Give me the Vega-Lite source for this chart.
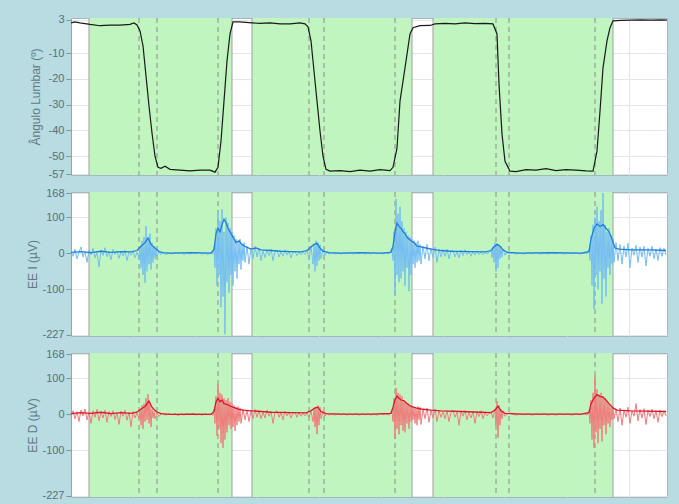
{
"$schema": "https://vega.github.io/schema/vega-lite/v6.json",
"background": "#b9dce2",
"padding": {"left": 25, "top": 13, "right": 12, "bottom": 6},
"config": {
  "view": {"stroke": "#a3b8bd", "fill": "white"},
  "axisY": {"labelColor": "#56707b", "labelFontSize": 11, "labelFont": "Liberation Sans", "labelOverlap": false, "labelExpr": "'' + datum.value", "tickColor": "#7d959c", "tickSize": 5, "labelPadding": 2, "domainColor": "#a0a0a0", "gridColor": "#e6e6e6", "titleColor": "#5f7a85", "titleFontSize": 12, "titleFont": "Liberation Sans", "titleFontWeight": "normal", "titleBaseline": "middle", "titleAngle": -90}
},
"bounds": "flush",
"spacing": 17,
"datasets": {
  "regions": [{"a": 18, "b": 161}, {"a": 181, "b": 341}, {"a": 362, "b": 542}],
  "edges": [{"s": 18}, {"s": 161}, {"s": 181}, {"s": 341}, {"s": 362}, {"s": 542}],
  "marks": [{"s": 68}, {"s": 86}, {"s": 147}, {"s": 238}, {"s": 253}, {"s": 324}, {"s": 425}, {"s": 438}, {"s": 524}],
  "ang": [
    {"s":0,"v":1.8},{"s":4,"v":2.2},{"s":9,"v":1.8},{"s":19,"v":1.2},{"s":29,"v":0.7},{"s":39,"v":0.9},{"s":49,"v":0.9},{"s":59,"v":1.2},{"s":63,"v":1.8},{"s":66,"v":1.0},{"s":69,"v":-1.3},{"s":72,"v":-7.1},{"s":75,"v":-18.8},{"s":78,"v":-30.5},{"s":81,"v":-41.0},{"s":84,"v":-50.0},{"s":87,"v":-54.3},{"s":90,"v":-54.7},{"s":94,"v":-53.9},{"s":99,"v":-55.1},{"s":109,"v":-55.4},{"s":119,"v":-55.7},{"s":129,"v":-55.4},{"s":139,"v":-55.4},{"s":144,"v":-56.2},{"s":147,"v":-54.3},{"s":150,"v":-44.1},{"s":153,"v":-28.6},{"s":156,"v":-13.0},{"s":159,"v":-2.5},{"s":162,"v":2.2},{"s":169,"v":2.2},{"s":181,"v":1.8},{"s":189,"v":1.6},{"s":199,"v":1.8},{"s":209,"v":1.4},{"s":219,"v":1.4},{"s":229,"v":1.8},{"s":234,"v":1.4},{"s":237,"v":0.3},{"s":240,"v":-5.2},{"s":243,"v":-16.9},{"s":246,"v":-28.6},{"s":249,"v":-40.2},{"s":252,"v":-50.0},{"s":255,"v":-55.1},{"s":259,"v":-55.8},{"s":269,"v":-55.6},{"s":279,"v":-56.0},{"s":289,"v":-55.4},{"s":299,"v":-55.8},{"s":309,"v":-55.2},{"s":319,"v":-55.6},{"s":322,"v":-54.3},{"s":326,"v":-46.9},{"s":329,"v":-28.6},{"s":334,"v":-15.7},{"s":339,"v":-2.5},{"s":342,"v":-0.1},{"s":349,"v":0.7},{"s":359,"v":0.8},{"s":364,"v":1.4},{"s":374,"v":1.6},{"s":384,"v":1.4},{"s":394,"v":1.8},{"s":404,"v":1.5},{"s":414,"v":1.6},{"s":422,"v":1.4},{"s":426,"v":-2.5},{"s":428,"v":-22.0},{"s":431,"v":-41.4},{"s":434,"v":-52.0},{"s":439,"v":-55.8},{"s":445,"v":-56.0},{"s":455,"v":-55.2},{"s":465,"v":-55.4},{"s":475,"v":-54.8},{"s":485,"v":-55.6},{"s":495,"v":-55.2},{"s":505,"v":-55.4},{"s":515,"v":-55.7},{"s":522,"v":-55.8},{"s":526,"v":-48.0},{"s":529,"v":-32.5},{"s":532,"v":-15.7},{"s":536,"v":-5.2},{"s":539,"v":-0.1},{"s":542,"v":2.6},{"s":550,"v":2.8},{"s":560,"v":2.9},{"s":570,"v":3.0},{"s":580,"v":2.9},{"s":590,"v":3.0},{"s":596,"v":2.9}
  ],
  "eiRaw": [
    {"s":0,"v":5},{"s":2,"v":-8},{"s":4,"v":12},{"s":6,"v":-15},{"s":8,"v":3},{"s":10,"v":18},{"s":12,"v":-10},{"s":14,"v":6},{"s":16,"v":-25},{"s":18,"v":9},{"s":20,"v":-4},{"s":22,"v":14},{"s":24,"v":-12},{"s":26,"v":2},{"s":28,"v":-38},{"s":30,"v":10},{"s":32,"v":-6},{"s":34,"v":16},{"s":36,"v":-9},{"s":38,"v":4},{"s":40,"v":-18},{"s":42,"v":11},{"s":44,"v":-3},{"s":46,"v":7},{"s":48,"v":-14},{"s":50,"v":5},{"s":52,"v":-7},{"s":54,"v":9},{"s":56,"v":-20},{"s":58,"v":3},{"s":60,"v":-5},{"s":62,"v":6},{"s":64,"v":-12},{"s":66,"v":4},
    {"s":68,"v":-15},{"s":69,"v":20},{"s":70,"v":-40},{"s":71,"v":35},{"s":72,"v":-60},{"s":73,"v":45},{"s":74,"v":-82},{"s":75,"v":76},{"s":76,"v":-50},{"s":77,"v":40},{"s":78,"v":-30},{"s":79,"v":55},{"s":80,"v":-45},{"s":81,"v":30},{"s":82,"v":-25},{"s":83,"v":20},{"s":84,"v":-15},{"s":85,"v":10},{"s":86,"v":-8},{"s":88,"v":6},{"s":90,"v":-4},
    {"s":92,"v":2},{"s":95,"v":-3},{"s":98,"v":1},{"s":101,"v":-2},{"s":104,"v":3},{"s":107,"v":-1},{"s":110,"v":2},{"s":113,"v":-3},{"s":116,"v":1},{"s":119,"v":-2},{"s":122,"v":2},{"s":125,"v":-1},{"s":128,"v":3},{"s":131,"v":-2},{"s":134,"v":1},{"s":137,"v":-3},{"s":140,"v":2},{"s":142,"v":-2},
    {"s":143,"v":20},{"s":144,"v":-40},{"s":145,"v":70},{"s":146,"v":-90},{"s":147,"v":110},{"s":148,"v":-60},{"s":149,"v":90},{"s":150,"v":-150},{"s":151,"v":123},{"s":152,"v":-120},{"s":153,"v":60},{"s":154,"v":-225},{"s":155,"v":100},{"s":156,"v":-80},{"s":157,"v":85},{"s":158,"v":-110},{"s":159,"v":70},{"s":160,"v":-60},{"s":161,"v":60},{"s":162,"v":-90},
    {"s":163,"v":50},{"s":164,"v":-50},{"s":165,"v":40},{"s":166,"v":-70},{"s":167,"v":35},{"s":168,"v":-30},{"s":169,"v":40},{"s":170,"v":-45},{"s":171,"v":25},{"s":172,"v":-20},{"s":173,"v":30},{"s":174,"v":-25},{"s":176,"v":20},{"s":178,"v":-30},{"s":180,"v":15},{"s":182,"v":-15},{"s":184,"v":20},{"s":186,"v":-10},{"s":188,"v":15},{"s":190,"v":-20},
    {"s":192,"v":8},{"s":194,"v":-12},{"s":196,"v":10},{"s":198,"v":-6},{"s":200,"v":12},{"s":202,"v":-20},{"s":204,"v":5},{"s":206,"v":9},{"s":208,"v":-10},{"s":210,"v":4},{"s":212,"v":-8},{"s":214,"v":10},{"s":216,"v":-5},{"s":218,"v":6},{"s":220,"v":-12},{"s":222,"v":3},{"s":224,"v":5},{"s":226,"v":-6},{"s":228,"v":4},{"s":230,"v":-4},{"s":232,"v":3},{"s":234,"v":-3},
    {"s":236,"v":10},{"s":238,"v":-15},{"s":240,"v":20},{"s":242,"v":-30},{"s":243,"v":25},{"s":244,"v":-50},{"s":245,"v":35},{"s":246,"v":-35},{"s":247,"v":30},{"s":248,"v":-20},{"s":249,"v":25},{"s":250,"v":-15},{"s":252,"v":12},{"s":254,"v":-6},{"s":256,"v":4},{"s":258,"v":-2},
    {"s":261,"v":2},{"s":264,"v":-2},{"s":267,"v":1},{"s":270,"v":-2},{"s":273,"v":2},{"s":276,"v":-1},{"s":279,"v":2},{"s":282,"v":-2},{"s":285,"v":1},{"s":288,"v":-1},{"s":291,"v":2},{"s":294,"v":-2},{"s":297,"v":1},{"s":300,"v":-2},{"s":303,"v":2},{"s":306,"v":-1},{"s":309,"v":2},{"s":312,"v":-2},{"s":315,"v":1},{"s":318,"v":-1},
    {"s":321,"v":15},{"s":322,"v":-20},{"s":323,"v":60},{"s":324,"v":-113},{"s":325,"v":152},{"s":326,"v":-60},{"s":327,"v":110},{"s":328,"v":-80},{"s":329,"v":130},{"s":330,"v":-70},{"s":331,"v":90},{"s":332,"v":-50},{"s":333,"v":70},{"s":334,"v":-90},{"s":335,"v":60},{"s":336,"v":-40},{"s":337,"v":50},{"s":338,"v":-105},{"s":339,"v":45},{"s":340,"v":-60},{"s":341,"v":40},{"s":342,"v":-30},
    {"s":343,"v":35},{"s":344,"v":-40},{"s":345,"v":30},{"s":346,"v":-25},{"s":347,"v":35},{"s":348,"v":-20},{"s":349,"v":25},{"s":350,"v":-30},{"s":352,"v":20},{"s":354,"v":-15},{"s":356,"v":25},{"s":358,"v":-20},{"s":360,"v":15},{"s":362,"v":-12},{"s":364,"v":18},{"s":366,"v":-25},{"s":368,"v":12},{"s":370,"v":-10},
    {"s":372,"v":10},{"s":374,"v":-8},{"s":376,"v":12},{"s":378,"v":-15},{"s":380,"v":6},{"s":382,"v":9},{"s":384,"v":-10},{"s":386,"v":5},{"s":388,"v":-12},{"s":390,"v":8},{"s":392,"v":-6},{"s":394,"v":10},{"s":396,"v":-4},{"s":398,"v":5},{"s":400,"v":-8},{"s":402,"v":6},{"s":404,"v":-5},{"s":406,"v":7},{"s":408,"v":-3},{"s":410,"v":4},{"s":412,"v":-4},{"s":414,"v":3},{"s":416,"v":-2},{"s":418,"v":2},
    {"s":420,"v":8},{"s":421,"v":-12},{"s":422,"v":20},{"s":423,"v":-25},{"s":424,"v":30},{"s":425,"v":-50},{"s":426,"v":28},{"s":427,"v":-40},{"s":428,"v":25},{"s":429,"v":-15},{"s":430,"v":20},{"s":431,"v":-10},{"s":432,"v":12},{"s":434,"v":-5},{"s":436,"v":4},{"s":438,"v":-2},
    {"s":441,"v":2},{"s":445,"v":-2},{"s":449,"v":1},{"s":453,"v":-2},{"s":457,"v":2},{"s":461,"v":-1},{"s":465,"v":2},{"s":469,"v":-2},{"s":473,"v":1},{"s":477,"v":-2},{"s":481,"v":2},{"s":485,"v":-1},{"s":489,"v":2},{"s":493,"v":-2},{"s":497,"v":1},{"s":501,"v":-1},{"s":505,"v":2},{"s":509,"v":-2},{"s":513,"v":1},{"s":516,"v":-1},
    {"s":518,"v":12},{"s":519,"v":-20},{"s":520,"v":50},{"s":521,"v":-90},{"s":522,"v":80},{"s":523,"v":-155},{"s":524,"v":100},{"s":525,"v":-60},{"s":526,"v":130},{"s":527,"v":-100},{"s":528,"v":90},{"s":529,"v":-50},{"s":530,"v":120},{"s":531,"v":-140},{"s":532,"v":168},{"s":533,"v":-70},{"s":534,"v":80},{"s":535,"v":-120},{"s":536,"v":60},{"s":537,"v":-40},{"s":538,"v":70},{"s":539,"v":-60},{"s":540,"v":50},{"s":541,"v":-30},{"s":542,"v":40},{"s":543,"v":-25},
    {"s":545,"v":30},{"s":547,"v":-20},{"s":549,"v":25},{"s":551,"v":-30},{"s":553,"v":20},{"s":555,"v":-10},{"s":557,"v":28},{"s":559,"v":-40},{"s":561,"v":15},{"s":563,"v":-5},{"s":565,"v":22},{"s":567,"v":-25},{"s":569,"v":18},{"s":571,"v":-10},{"s":573,"v":20},{"s":575,"v":-35},{"s":577,"v":14},{"s":579,"v":-8},{"s":581,"v":20},{"s":583,"v":-15},{"s":585,"v":12},{"s":587,"v":-20},{"s":589,"v":16},{"s":591,"v":-8},{"s":593,"v":14},{"s":595,"v":-5}
  ],
  "eiEnv": [
    {"s":0,"v":3},{"s":10,"v":5},{"s":20,"v":2},{"s":30,"v":6},{"s":40,"v":3},{"s":50,"v":5},{"s":60,"v":4},{"s":66,"v":8},{"s":70,"v":20},{"s":74,"v":30},{"s":77,"v":43},{"s":80,"v":25},{"s":84,"v":15},{"s":88,"v":5},{"s":92,"v":2},{"s":100,"v":1},{"s":120,"v":2},{"s":140,"v":1},{"s":143,"v":10},{"s":145,"v":55},{"s":147,"v":70},{"s":149,"v":60},{"s":151,"v":80},{"s":153,"v":95},{"s":155,"v":85},{"s":157,"v":70},{"s":159,"v":60},{"s":161,"v":50},{"s":163,"v":40},{"s":165,"v":30},{"s":168,"v":35},{"s":171,"v":25},{"s":175,"v":18},{"s":180,"v":12},{"s":185,"v":15},{"s":190,"v":10},{"s":200,"v":8},{"s":210,"v":6},{"s":220,"v":5},{"s":230,"v":4},{"s":236,"v":8},{"s":240,"v":18},{"s":243,"v":25},{"s":246,"v":28},{"s":249,"v":15},{"s":252,"v":6},{"s":258,"v":2},{"s":270,"v":1},{"s":290,"v":2},{"s":310,"v":1},{"s":320,"v":3},{"s":322,"v":20},{"s":324,"v":60},{"s":326,"v":84},{"s":328,"v":75},{"s":330,"v":70},{"s":332,"v":60},{"s":334,"v":55},{"s":336,"v":45},{"s":338,"v":40},{"s":340,"v":35},{"s":343,"v":30},{"s":346,"v":20},{"s":350,"v":18},{"s":355,"v":15},{"s":360,"v":12},{"s":370,"v":8},{"s":380,"v":6},{"s":400,"v":5},{"s":415,"v":4},{"s":420,"v":8},{"s":423,"v":18},{"s":426,"v":25},{"s":429,"v":20},{"s":432,"v":10},{"s":436,"v":3},{"s":450,"v":1},{"s":480,"v":2},{"s":510,"v":1},{"s":518,"v":5},{"s":520,"v":40},{"s":523,"v":70},{"s":526,"v":82},{"s":529,"v":75},{"s":532,"v":80},{"s":535,"v":70},{"s":538,"v":60},{"s":541,"v":40},{"s":544,"v":15},{"s":548,"v":12},{"s":560,"v":10},{"s":580,"v":10},{"s":595,"v":8}
  ],
  "edRaw": [
    {"s":0,"v":-5},{"s":2,"v":10},{"s":4,"v":-12},{"s":6,"v":8},{"s":8,"v":-20},{"s":10,"v":12},{"s":12,"v":-4},{"s":14,"v":15},{"s":16,"v":-15},{"s":18,"v":5},{"s":20,"v":-25},{"s":22,"v":10},{"s":24,"v":-8},{"s":26,"v":14},{"s":28,"v":-18},{"s":30,"v":6},{"s":32,"v":-10},{"s":34,"v":12},{"s":36,"v":-22},{"s":38,"v":8},{"s":40,"v":-6},{"s":42,"v":10},{"s":44,"v":-14},{"s":46,"v":4},{"s":48,"v":-28},{"s":50,"v":9},{"s":52,"v":-5},{"s":54,"v":12},{"s":56,"v":-16},{"s":58,"v":6},{"s":60,"v":-35},{"s":62,"v":8},{"s":64,"v":-10},{"s":66,"v":5},
    {"s":68,"v":-12},{"s":69,"v":15},{"s":70,"v":-30},{"s":71,"v":25},{"s":72,"v":-40},{"s":73,"v":30},{"s":74,"v":-20},{"s":75,"v":45},{"s":76,"v":-15},{"s":77,"v":56},{"s":78,"v":-25},{"s":79,"v":30},{"s":80,"v":-35},{"s":81,"v":15},{"s":82,"v":-10},{"s":83,"v":8},{"s":84,"v":-12},{"s":86,"v":5},{"s":88,"v":-6},{"s":90,"v":2},
    {"s":92,"v":1},{"s":95,"v":-2},{"s":98,"v":2},{"s":101,"v":-1},{"s":104,"v":2},{"s":107,"v":-3},{"s":110,"v":1},{"s":113,"v":-2},{"s":116,"v":2},{"s":119,"v":-1},{"s":122,"v":3},{"s":125,"v":-2},{"s":128,"v":1},{"s":131,"v":-2},{"s":134,"v":2},{"s":137,"v":-1},{"s":140,"v":2},{"s":142,"v":-3},
    {"s":143,"v":15},{"s":144,"v":-25},{"s":145,"v":50},{"s":146,"v":-60},{"s":147,"v":84},{"s":148,"v":-40},{"s":149,"v":60},{"s":150,"v":-80},{"s":151,"v":55},{"s":152,"v":-93},{"s":153,"v":45},{"s":154,"v":-70},{"s":155,"v":40},{"s":156,"v":-50},{"s":157,"v":45},{"s":158,"v":-30},{"s":159,"v":35},{"s":160,"v":-40},{"s":161,"v":30},{"s":162,"v":-35},
    {"s":163,"v":25},{"s":164,"v":-46},{"s":165,"v":20},{"s":166,"v":-30},{"s":167,"v":22},{"s":168,"v":-20},{"s":169,"v":18},{"s":170,"v":-25},{"s":172,"v":15},{"s":174,"v":-15},{"s":176,"v":12},{"s":178,"v":-20},{"s":180,"v":10},{"s":182,"v":-12},{"s":184,"v":14},{"s":186,"v":-8},{"s":188,"v":10},{"s":190,"v":-12},
    {"s":192,"v":6},{"s":194,"v":-10},{"s":196,"v":12},{"s":198,"v":-5},{"s":200,"v":8},{"s":202,"v":-25},{"s":204,"v":6},{"s":206,"v":10},{"s":208,"v":-8},{"s":210,"v":5},{"s":212,"v":-15},{"s":214,"v":9},{"s":216,"v":-4},{"s":218,"v":7},{"s":220,"v":-10},{"s":222,"v":4},{"s":224,"v":6},{"s":226,"v":-8},{"s":228,"v":5},{"s":230,"v":-5},{"s":232,"v":3},{"s":234,"v":-4},
    {"s":236,"v":5},{"s":238,"v":-8},{"s":240,"v":10},{"s":242,"v":-20},{"s":243,"v":18},{"s":244,"v":-35},{"s":245,"v":20},{"s":246,"v":-55},{"s":247,"v":25},{"s":248,"v":-30},{"s":249,"v":20},{"s":250,"v":-12},{"s":252,"v":8},{"s":254,"v":-5},{"s":256,"v":3},{"s":258,"v":-2},
    {"s":261,"v":1},{"s":264,"v":-2},{"s":267,"v":2},{"s":270,"v":-1},{"s":273,"v":2},{"s":276,"v":-2},{"s":279,"v":1},{"s":282,"v":-1},{"s":285,"v":2},{"s":288,"v":-2},{"s":291,"v":1},{"s":294,"v":-1},{"s":297,"v":2},{"s":300,"v":-2},{"s":303,"v":1},{"s":306,"v":-2},{"s":309,"v":2},{"s":312,"v":-1},{"s":315,"v":1},{"s":318,"v":-2},
    {"s":321,"v":10},{"s":322,"v":-20},{"s":323,"v":45},{"s":324,"v":-68},{"s":325,"v":74},{"s":326,"v":-40},{"s":327,"v":60},{"s":328,"v":-55},{"s":329,"v":55},{"s":330,"v":-30},{"s":331,"v":50},{"s":332,"v":-45},{"s":333,"v":40},{"s":334,"v":-50},{"s":335,"v":35},{"s":336,"v":-25},{"s":337,"v":30},{"s":338,"v":-40},{"s":339,"v":25},{"s":340,"v":-20},{"s":341,"v":22},{"s":342,"v":-15},
    {"s":343,"v":20},{"s":344,"v":-25},{"s":345,"v":18},{"s":346,"v":-30},{"s":347,"v":22},{"s":348,"v":-15},{"s":349,"v":20},{"s":350,"v":-28},{"s":352,"v":15},{"s":354,"v":-12},{"s":356,"v":18},{"s":358,"v":-22},{"s":360,"v":12},{"s":362,"v":-10},{"s":364,"v":15},{"s":366,"v":-20},{"s":368,"v":10},{"s":370,"v":-8},
    {"s":372,"v":8},{"s":374,"v":-12},{"s":376,"v":10},{"s":378,"v":-20},{"s":380,"v":5},{"s":382,"v":12},{"s":384,"v":-8},{"s":386,"v":6},{"s":388,"v":-30},{"s":390,"v":9},{"s":392,"v":-5},{"s":394,"v":11},{"s":396,"v":-15},{"s":398,"v":6},{"s":400,"v":-10},{"s":402,"v":8},{"s":404,"v":-25},{"s":406,"v":7},{"s":408,"v":-6},{"s":410,"v":10},{"s":412,"v":-12},{"s":414,"v":5},{"s":416,"v":-4},{"s":418,"v":3},
    {"s":420,"v":6},{"s":422,"v":-10},{"s":424,"v":15},{"s":425,"v":-30},{"s":426,"v":37},{"s":427,"v":-65},{"s":428,"v":25},{"s":429,"v":-30},{"s":430,"v":15},{"s":431,"v":-12},{"s":432,"v":10},{"s":434,"v":-5},{"s":437,"v":3},
    {"s":441,"v":1},{"s":445,"v":-2},{"s":449,"v":2},{"s":453,"v":-1},{"s":457,"v":2},{"s":461,"v":-2},{"s":465,"v":1},{"s":469,"v":-1},{"s":473,"v":2},{"s":477,"v":-2},{"s":481,"v":1},{"s":485,"v":-2},{"s":489,"v":2},{"s":493,"v":-1},{"s":497,"v":1},{"s":501,"v":-2},{"s":505,"v":2},{"s":509,"v":-1},{"s":513,"v":2},{"s":516,"v":-2},
    {"s":518,"v":10},{"s":519,"v":-25},{"s":520,"v":40},{"s":521,"v":-70},{"s":522,"v":60},{"s":523,"v":-93},{"s":524,"v":107},{"s":525,"v":-50},{"s":526,"v":70},{"s":527,"v":-80},{"s":528,"v":55},{"s":529,"v":-40},{"s":530,"v":60},{"s":531,"v":-75},{"s":532,"v":50},{"s":533,"v":-30},{"s":534,"v":45},{"s":535,"v":-55},{"s":536,"v":35},{"s":537,"v":-25},{"s":538,"v":30},{"s":539,"v":-35},{"s":540,"v":20},{"s":541,"v":-15},{"s":542,"v":18},{"s":543,"v":-12},
    {"s":545,"v":15},{"s":547,"v":-20},{"s":549,"v":18},{"s":551,"v":-30},{"s":553,"v":12},{"s":555,"v":-8},{"s":557,"v":20},{"s":559,"v":-25},{"s":561,"v":10},{"s":563,"v":-5},{"s":565,"v":30},{"s":567,"v":-18},{"s":569,"v":14},{"s":571,"v":-10},{"s":573,"v":16},{"s":575,"v":-28},{"s":577,"v":12},{"s":579,"v":-6},{"s":581,"v":15},{"s":583,"v":-12},{"s":585,"v":10},{"s":587,"v":-22},{"s":589,"v":12},{"s":591,"v":-6},{"s":593,"v":10},{"s":595,"v":-4}
  ],
  "edEnv": [
    {"s":0,"v":2},{"s":10,"v":5},{"s":20,"v":3},{"s":30,"v":6},{"s":40,"v":2},{"s":50,"v":5},{"s":60,"v":3},{"s":66,"v":6},{"s":70,"v":15},{"s":74,"v":22},{"s":78,"v":37},{"s":81,"v":20},{"s":85,"v":8},{"s":90,"v":2},{"s":100,"v":0},{"s":120,"v":1},{"s":140,"v":0},{"s":143,"v":8},{"s":145,"v":35},{"s":147,"v":45},{"s":149,"v":35},{"s":151,"v":40},{"s":153,"v":30},{"s":156,"v":28},{"s":160,"v":22},{"s":164,"v":18},{"s":168,"v":14},{"s":172,"v":12},{"s":180,"v":10},{"s":190,"v":8},{"s":200,"v":6},{"s":220,"v":5},{"s":235,"v":4},{"s":240,"v":10},{"s":244,"v":18},{"s":247,"v":20},{"s":250,"v":8},{"s":255,"v":2},{"s":270,"v":1},{"s":300,"v":1},{"s":320,"v":3},{"s":322,"v":20},{"s":324,"v":40},{"s":326,"v":51},{"s":328,"v":45},{"s":330,"v":40},{"s":333,"v":38},{"s":336,"v":30},{"s":340,"v":22},{"s":345,"v":18},{"s":350,"v":15},{"s":360,"v":12},{"s":370,"v":10},{"s":390,"v":8},{"s":410,"v":6},{"s":420,"v":5},{"s":424,"v":12},{"s":427,"v":23},{"s":430,"v":10},{"s":434,"v":3},{"s":450,"v":1},{"s":480,"v":1},{"s":510,"v":1},{"s":518,"v":5},{"s":520,"v":30},{"s":523,"v":45},{"s":526,"v":55},{"s":529,"v":50},{"s":532,"v":48},{"s":535,"v":40},{"s":538,"v":30},{"s":542,"v":18},{"s":546,"v":12},{"s":560,"v":10},{"s":575,"v":9},{"s":595,"v":8}
  ]
},
"vconcat": [
  {
    "width": 596, "height": 157,
    "layer": [
      {"data": {"name": "regions"}, "mark": {"type": "rect", "fill": "#c0f5c0"},
       "encoding": {"x": {"field": "a", "type": "quantitative", "scale": {"domain": [0, 596], "nice": false, "zero": false}, "axis": {"values": [0,31,62,93,124,155,186,217,248,279,310,341,372,403,434,465,496,527,558,589], "labels": false, "ticks": false, "domain": false, "title": null, "grid": true, "gridColor": "#e4e4e4"}}, "x2": {"field": "b"}}},
      {"data": {"name": "edges"}, "mark": {"type": "rule", "color": "#a0a0a0", "strokeWidth": 1},
       "encoding": {"x": {"field": "s", "type": "quantitative", "scale": {"domain": [0, 596], "nice": false, "zero": false}}}},
      {"data": {"name": "marks"}, "mark": {"type": "rule", "color": "#8c8c8c", "strokeDash": [5, 4], "strokeWidth": 1},
       "encoding": {"x": {"field": "s", "type": "quantitative", "scale": {"domain": [0, 596], "nice": false, "zero": false}}}},
      {"data": {"name": "ang"}, "mark": {"type": "line", "color": "#1a1a1a", "strokeWidth": 1.2},
       "encoding": {"x": {"field": "s", "type": "quantitative", "scale": {"domain": [0, 596], "nice": false, "zero": false}},
         "y": {"field": "v", "type": "quantitative", "scale": {"domain": [-57.3, 3.7], "nice": false, "zero": false}, "axis": {"title": "Ângulo Lumbar (º)", "titleX": -36, "labelOverlap": false, "values": [3, -10, -20, -30, -40, -50, -57], "grid": true}}}}
    ]
  },
  {
    "width": 596, "height": 144,
    "layer": [
      {"data": {"name": "regions"}, "mark": {"type": "rect", "fill": "#c0f5c0"},
       "encoding": {"x": {"field": "a", "type": "quantitative", "scale": {"domain": [0, 596], "nice": false, "zero": false}, "axis": {"values": [0,31,62,93,124,155,186,217,248,279,310,341,372,403,434,465,496,527,558,589], "labels": false, "ticks": false, "domain": false, "title": null, "grid": true, "gridColor": "#e4e4e4"}}, "x2": {"field": "b"}}},
      {"data": {"name": "edges"}, "mark": {"type": "rule", "color": "#a0a0a0", "strokeWidth": 1},
       "encoding": {"x": {"field": "s", "type": "quantitative", "scale": {"domain": [0, 596], "nice": false, "zero": false}}}},
      {"data": {"name": "marks"}, "mark": {"type": "rule", "color": "#8c8c8c", "strokeDash": [5, 4], "strokeWidth": 1},
       "encoding": {"x": {"field": "s", "type": "quantitative", "scale": {"domain": [0, 596], "nice": false, "zero": false}}}},
      {"data": {"name": "eiRaw"}, "mark": {"type": "line", "color": "#74bdf2", "strokeWidth": 1},
       "encoding": {"x": {"field": "s", "type": "quantitative", "scale": {"domain": [0, 596], "nice": false, "zero": false}},
         "y": {"field": "v", "type": "quantitative", "scale": {"domain": [-229.8, 170.8], "nice": false, "zero": false}, "axis": {"title": "EE I (µV)", "titleX": -39, "labelOverlap": false, "values": [168, 100, 0, -100, -227], "grid": true}}}},
      {"data": {"name": "eiEnv"}, "mark": {"type": "line", "color": "#1f7fd8", "strokeWidth": 1.3},
       "encoding": {"x": {"field": "s", "type": "quantitative", "scale": {"domain": [0, 596], "nice": false, "zero": false}},
         "y": {"field": "v", "type": "quantitative", "scale": {"domain": [-229.8, 170.8], "nice": false, "zero": false}, "axis": {"title": "EE I (µV)", "titleX": -39, "labelOverlap": false, "values": [168, 100, 0, -100, -227], "grid": true}}}}
    ]
  },
  {
    "width": 596, "height": 144,
    "layer": [
      {"data": {"name": "regions"}, "mark": {"type": "rect", "fill": "#c0f5c0"},
       "encoding": {"x": {"field": "a", "type": "quantitative", "scale": {"domain": [0, 596], "nice": false, "zero": false}, "axis": {"values": [0,31,62,93,124,155,186,217,248,279,310,341,372,403,434,465,496,527,558,589], "labels": false, "ticks": false, "domain": false, "title": null, "grid": true, "gridColor": "#e4e4e4"}}, "x2": {"field": "b"}}},
      {"data": {"name": "edges"}, "mark": {"type": "rule", "color": "#a0a0a0", "strokeWidth": 1},
       "encoding": {"x": {"field": "s", "type": "quantitative", "scale": {"domain": [0, 596], "nice": false, "zero": false}}}},
      {"data": {"name": "marks"}, "mark": {"type": "rule", "color": "#8c8c8c", "strokeDash": [5, 4], "strokeWidth": 1},
       "encoding": {"x": {"field": "s", "type": "quantitative", "scale": {"domain": [0, 596], "nice": false, "zero": false}}}},
      {"data": {"name": "edRaw"}, "mark": {"type": "line", "color": "#f07c7c", "strokeWidth": 1},
       "encoding": {"x": {"field": "s", "type": "quantitative", "scale": {"domain": [0, 596], "nice": false, "zero": false}},
         "y": {"field": "v", "type": "quantitative", "scale": {"domain": [-229.8, 170.8], "nice": false, "zero": false}, "axis": {"title": "EE D (µV)", "titleX": -39, "labelOverlap": false, "values": [168, 100, 0, -100, -227], "grid": true}}}},
      {"data": {"name": "edEnv"}, "mark": {"type": "line", "color": "#d8182c", "strokeWidth": 1.3},
       "encoding": {"x": {"field": "s", "type": "quantitative", "scale": {"domain": [0, 596], "nice": false, "zero": false}},
         "y": {"field": "v", "type": "quantitative", "scale": {"domain": [-229.8, 170.8], "nice": false, "zero": false}, "axis": {"title": "EE D (µV)", "titleX": -39, "labelOverlap": false, "values": [168, 100, 0, -100, -227], "grid": true}}}}
    ]
  }
]
}
